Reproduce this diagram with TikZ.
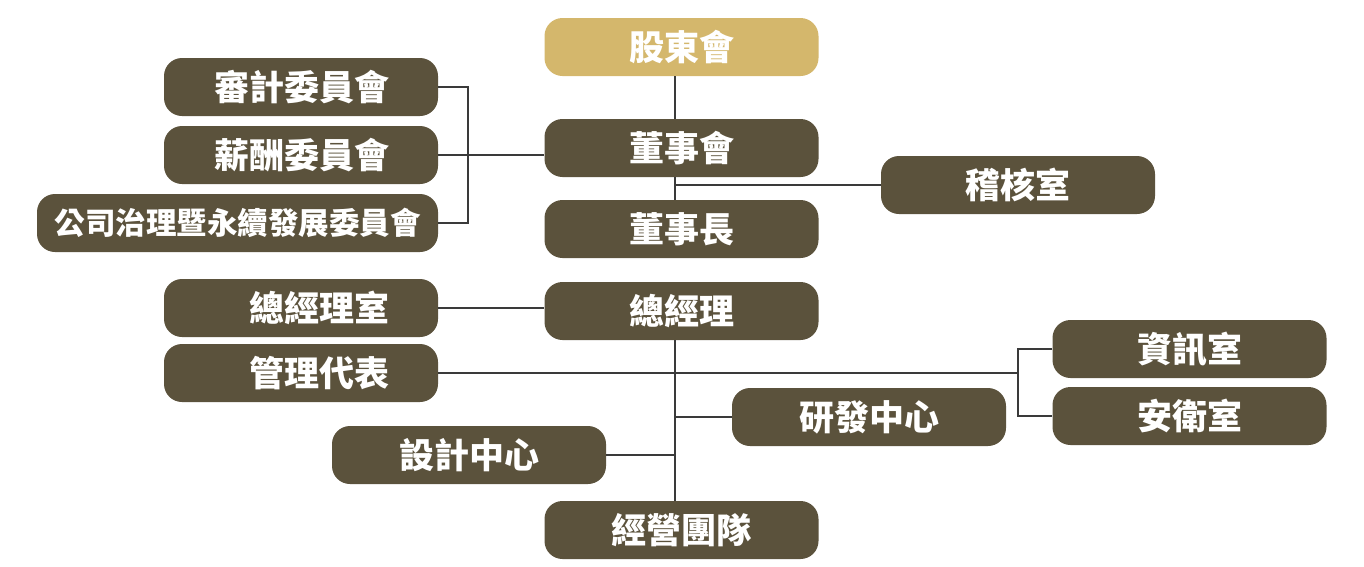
\documentclass[tikz,border=0pt]{standalone}
\usepackage{fontspec}
\newfontfamily\cjk{Noto Sans CJK TC}
\definecolor{boxbrown}{HTML}{5B523C}
\definecolor{boxgold}{HTML}{D4B76C}
\definecolor{linegray}{HTML}{3A3A3A}
\tikzstyle{unit}=[fill=boxbrown, rounded corners=18pt, minimum width=274pt, minimum height=58pt, inner sep=0pt, text=white, font=\cjk\bfseries\fontsize{35}{40}\selectfont]
\tikzstyle{gold}=[unit, fill=boxgold]
\tikzstyle{leftunit}=[unit, text width=176pt, align=right]
\tikzstyle{link}=[draw=linegray, line width=2.5pt]

\begin{document}
\begin{tikzpicture}[x=1pt, y=-1pt]
				\useasboundingbox (0,0) rectangle (1364,566);
				\coordinate (trunk) at (675,0);
				\coordinate (cbar) at (468,0);
				\coordinate (rbar) at (1018,0);
				\node[gold] (gudong) at (681.5,47) {股東會};
				\node[unit] (board) at (681.5,148) {董事會};
				\node[unit] (chair) at (681.5,229) {董事長};
				\node[unit] (audit) at (1018,185) {稽核室};
				\node[leftunit] (auditc) at (301,87) {審計委員會};
				\node[leftunit] (paync) at (301,155) {薪酬委員會};
				\node[unit, minimum width=401pt, font=\cjk\bfseries\fontsize{30.5}{36}\selectfont] (govc) at (237.5,223) {公司治理暨永續發展委員會};
				\node[leftunit] (gmoffice) at (301,308) {總經理室};
				\node[unit] (gm) at (681.5,311) {總經理};
				\node[leftunit] (mrep) at (301,373) {管理代表};
				\node[unit] (itoffice) at (1189.5,349) {資訊室};
				\node[unit] (safety) at (1189.5,416) {安衛室};
				\node[unit] (rnd) at (869,417) {研發中心};
				\node[unit] (design) at (469,455) {設計中心};
				\node[unit] (team) at (681.5,530) {經營團隊};
				% board level
				\draw[link] (gudong.south -| trunk) -- (board.north -| trunk);
				\draw[link] (board.south -| trunk) -- (chair.north -| trunk);
				\draw[link] (trunk |- audit.west) -- (audit.west);
				\draw[link] (auditc.east) -- (auditc.east -| cbar) -- (govc.east -| cbar) -- (govc.east);
				\draw[link] (paync.east) -- (board.west |- paync.east);
				% management level
				\draw[link] (gm.south -| trunk) -- (team.north -| trunk);
				\draw[link] (gmoffice.east) -- (gm.west |- gmoffice.east);
				\draw[link] (mrep.east) -- (mrep.east -| rbar);
				\draw[link] (itoffice.west) -- (itoffice.west -| rbar) -- (safety.west -| rbar) -- (safety.west);
				\draw[link] (trunk |- rnd.west) -- (rnd.west);
				\draw[link] (design.east) -- (design.east -| trunk);
			\end{tikzpicture}
\end{document}
